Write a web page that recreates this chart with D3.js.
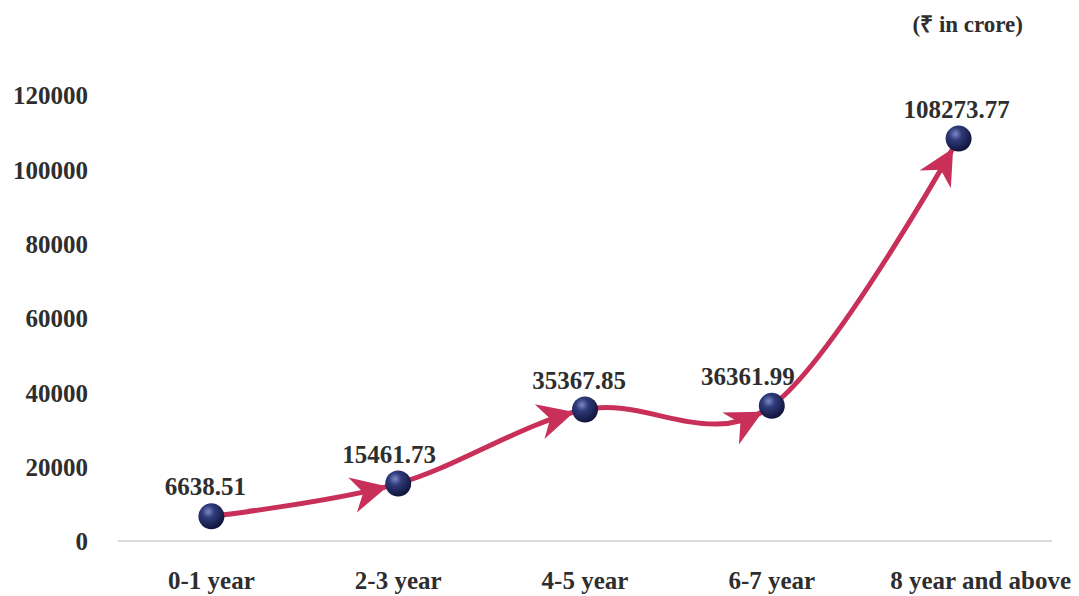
<!DOCTYPE html>
<html>
<head>
<meta charset="utf-8">
<script src="https://cdn.jsdelivr.net/npm/d3@7"></script>
<style>
  html, body { margin: 0; padding: 0; background: #fff; }
  svg { display: block; }
  svg text { font-family: "Liberation Serif", "Times New Roman", serif !important; font-weight: bold; fill: #2e2e2e; }
</style>
</head>
<body>
<svg id="chart" width="1079" height="596"></svg>
<script>
// Amount by age bucket (₹ in crore)
const categories = ["0-1 year", "2-3 year", "4-5 year", "6-7 year", "8 year and above"];
const values = [6638.51, 15461.73, 35367.85, 36361.99, 108273.77];
const valueLabels = ["6638.51", "15461.73", "35367.85", "36361.99", "108273.77"];
const yTicks = [0, 20000, 40000, 60000, 80000, 100000, 120000];
const unitNote = "(₹ in crore)";

const svg = d3.select("#chart");
const margin = { left: 118, right: 27, top: 95, bottom: 55 };
const W = 1079, H = 596;

const x = d3.scaleBand().domain(categories).range([margin.left, W - margin.right]);
const y = d3.scaleLinear().domain([0, 120000]).range([H - margin.bottom, margin.top]);
const cx = d => x(d) + x.bandwidth() / 2;

const defs = svg.append("defs");
const grad = defs.append("radialGradient").attr("id", "ball")
  .attr("cx", "38%").attr("cy", "32%").attr("r", "70%");
grad.append("stop").attr("offset", "0%").attr("stop-color", "#7d88c4");
grad.append("stop").attr("offset", "35%").attr("stop-color", "#2f3a7a");
grad.append("stop").attr("offset", "100%").attr("stop-color", "#0f1338");

// baseline
svg.append("line")
  .attr("x1", margin.left).attr("x2", W - margin.right)
  .attr("y1", y(0)).attr("y2", y(0))
  .attr("stroke", "#b8b8b8").attr("stroke-width", 1.2);

// y axis labels
const yAxis = d3.axisLeft(y).tickValues(yTicks).tickFormat(d3.format("d")).tickSize(0).tickPadding(0);
const gy = svg.append("g").attr("transform", "translate(88,0)").call(yAxis);
gy.attr("font-family", null).attr("font-size", null);
gy.select(".domain").remove();
gy.selectAll("text").style("font-size", "25px").attr("fill", "#2e2e2e")
  .attr("dy", "0.35em");

// x axis labels
const xAxis = d3.axisBottom(x).tickSize(0).tickPadding(0);
const gx = svg.append("g").attr("transform", `translate(0,${H - 7})`).call(xAxis);
gx.attr("font-family", null).attr("font-size", null);
gx.select(".domain").remove();
gx.selectAll("text").style("font-size", "25px").attr("fill", "#2e2e2e")
  .attr("dy", 0)
  .attr("dx", (d, i) => i === categories.length - 1 ? 22 : 0);

// unit note
svg.append("text").attr("x", 1023).attr("y", 32).attr("text-anchor", "end")
  .style("font-size", "23px").text(unitNote);

// smooth line
const pts = categories.map((c, i) => [cx(c), y(values[i])]);
const line = d3.line().curve(d3.curveCardinal.tension(0));
const path = svg.append("path").attr("d", line(pts))
  .attr("fill", "none").attr("stroke", "#c8305a").attr("stroke-width", 5)
  .attr("stroke-linecap", "round");

// arrowheads pointing into each marker
const node = path.node();
const total = node.getTotalLength();
function lengthAtX(tx) {
  let lo = 0, hi = total;
  for (let k = 0; k < 40; k++) {
    const mid = (lo + hi) / 2;
    if (node.getPointAtLength(mid).x < tx) lo = mid; else hi = mid;
  }
  return lo;
}
const R = 13;
const ptLens = pts.map(p => lengthAtX(p[0]));
for (let i = 1; i < pts.length; i++) {
  const tipL = ptLens[i] - R + 2;
  const tip = node.getPointAtLength(tipL);
  const back = node.getPointAtLength(tipL - 8);
  const ang = Math.atan2(tip.y - back.y, tip.x - back.x) * 180 / Math.PI;
  svg.append("path")
    .attr("d", "M0,0 L-36,-18 L-25,0 L-36,18 Z")
    .attr("fill", "#c8305a")
    .attr("transform", `translate(${tip.x},${tip.y}) rotate(${ang})`);
}

// markers
svg.selectAll("circle.pt").data(pts).join("circle").attr("class", "pt")
  .attr("cx", d => d[0]).attr("cy", d => d[1]).attr("r", R)
  .attr("fill", "url(#ball)");

// value labels
const labelDx = [-6, -9, -6, -24, -2];
svg.selectAll("text.val").data(pts).join("text").attr("class", "val")
  .attr("x", (d, i) => d[0] + labelDx[i]).attr("y", d => d[1] - 21)
  .attr("text-anchor", "middle").style("font-size", "25px")
  .text((d, i) => valueLabels[i]);
</script>
</body>
</html>
